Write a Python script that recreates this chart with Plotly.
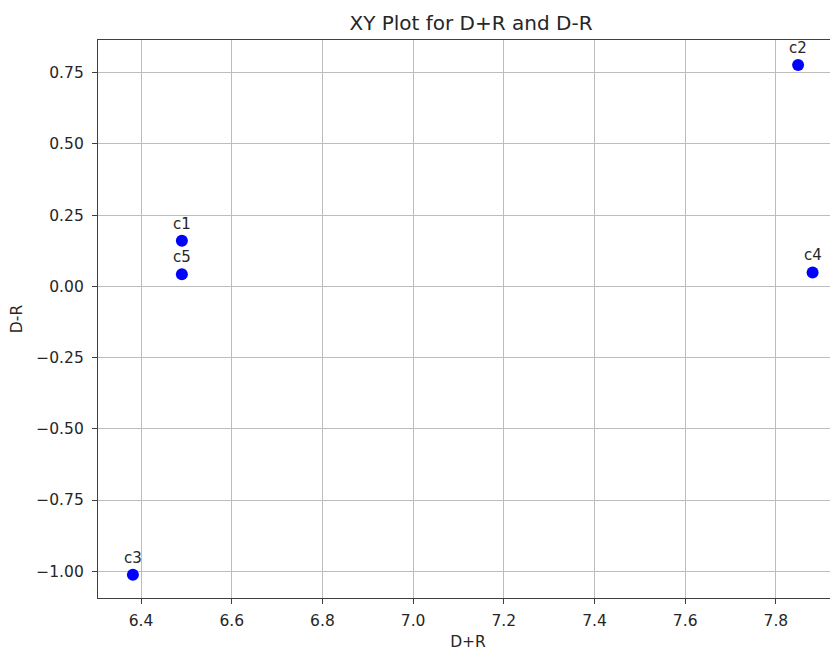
import plotly.graph_objects as go

labels = ["c1", "c2", "c3", "c4", "c5"]
x_vals = [6.49, 7.849, 6.382, 7.881, 6.49]
y_vals = [0.160, 0.777, -1.012, 0.049, 0.043]
x_ticks = [6.4, 6.6, 6.8, 7.0, 7.2, 7.4, 7.6, 7.8]
y_ticks = [-1.0, -0.75, -0.5, -0.25, 0.0, 0.25, 0.5, 0.75]

font_family = "DejaVu Sans"
txt_color = "#262626"
W, H = 838, 651
OFF = 8  # page body margin

fig = go.Figure()
fig.add_trace(go.Scatter(
    x=x_vals, y=y_vals, mode="markers",
    marker=dict(color="#0000ff", size=12, line=dict(width=0)),
    hoverinfo="skip", showlegend=False,
))

for lab, xv, yv in zip(labels, x_vals, y_vals):
    fig.add_annotation(x=xv, y=yv, text=lab, showarrow=False, yshift=17,
                       font=dict(family=font_family, size=15, color=txt_color))

fig.update_layout(
    width=W, height=H,
    margin=dict(l=98 - OFF, r=OFF, t=40 - OFF, b=H - (598 - OFF)),
    paper_bgcolor="white", plot_bgcolor="white",
    font=dict(family=font_family, size=15.5, color=txt_color),
    title=dict(text="XY Plot for D+R and D-R", x=(471 - OFF) / W, xanchor="center",
               y=1 - (23 - OFF) / H, yanchor="middle",
               font=dict(family=font_family, size=20, color=txt_color)),
)

fig.update_xaxes(
    range=[6.305, 7.937], tickvals=x_ticks, ticktext=[f"{v:.1f}" for v in x_ticks],
    showgrid=True, gridcolor="#bdbdbd", gridwidth=1,
    showline=True, linecolor="#404040", linewidth=1.3, mirror=True,
    ticks="outside", ticklen=5, tickcolor="#404040", zeroline=False,
    ticklabelstandoff=3,
    title=dict(text="D+R", standoff=7, font=dict(size=15.5)),
)
fig.update_yaxes(
    range=[-1.094, 0.865], tickvals=y_ticks, tickformat=".2f",
    showgrid=True, gridcolor="#bdbdbd", gridwidth=1,
    showline=True, linecolor="#404040", linewidth=1.3, mirror=False,
    ticks="outside", ticklen=5, tickcolor="#404040", zeroline=False,
    ticklabelstandoff=5,
    title=dict(text="D-R", standoff=10, font=dict(size=15.5)),
)

fig.write_html("out.html")
